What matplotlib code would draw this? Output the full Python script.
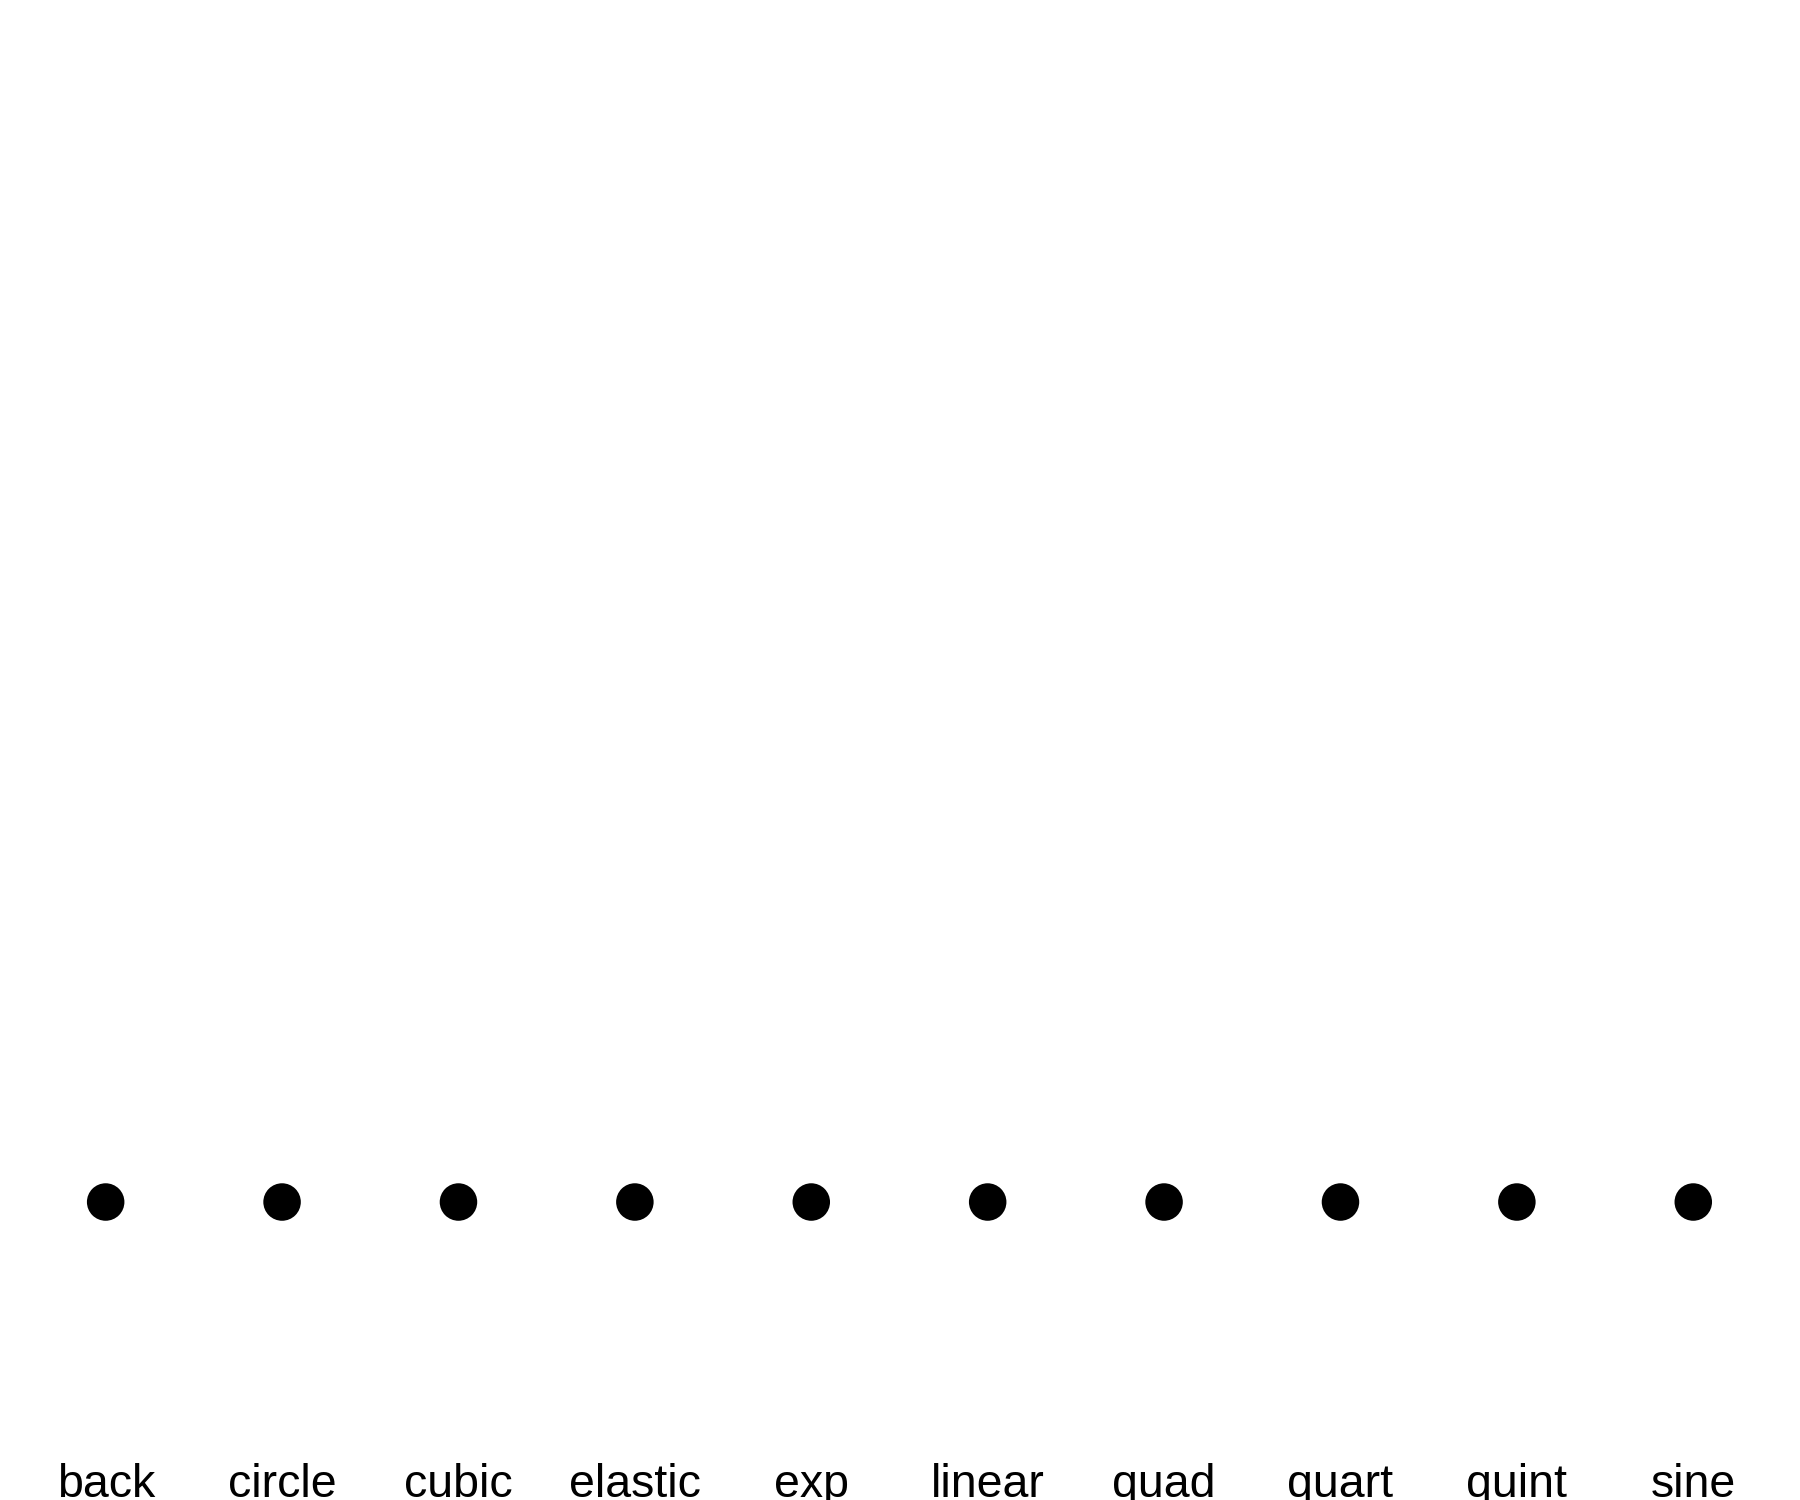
import matplotlib
matplotlib.use("Agg")
import matplotlib.pyplot as plt
from matplotlib.transforms import blended_transform_factory

# easing names and the value plotted for each (all sit on the same line)
NAMES = ["back", "circle", "cubic", "elastic", "exp",
         "linear", "quad", "quart", "quint", "sine"]
VALUES = [0, 0, 0, 0, 0, 0, 0, 0, 0, 0]

W, H, DPI = 1800, 1500, 100

fig = plt.figure(figsize=(W / DPI, H / DPI), dpi=DPI)
fig.patch.set_facecolor("white")
ax = fig.add_axes([0, 0, 1, 1])
ax.axis("off")

xs = list(range(len(NAMES)))
ax.scatter(xs, VALUES, s=27 ** 2, color="black", edgecolors="none", zorder=3)
ax.set_xlim(-0.599, 9.605)
ax.set_ylim(-0.2479, 1)

tr = blended_transform_factory(ax.transData, fig.transFigure)
for x, name in zip(xs, NAMES):
    ax.text(x, 3 / H, name, transform=tr, ha="center", va="baseline",
            fontsize=33.5, family="Liberation Sans", color="black")

fig.savefig("out.png", dpi=DPI, facecolor="white")
